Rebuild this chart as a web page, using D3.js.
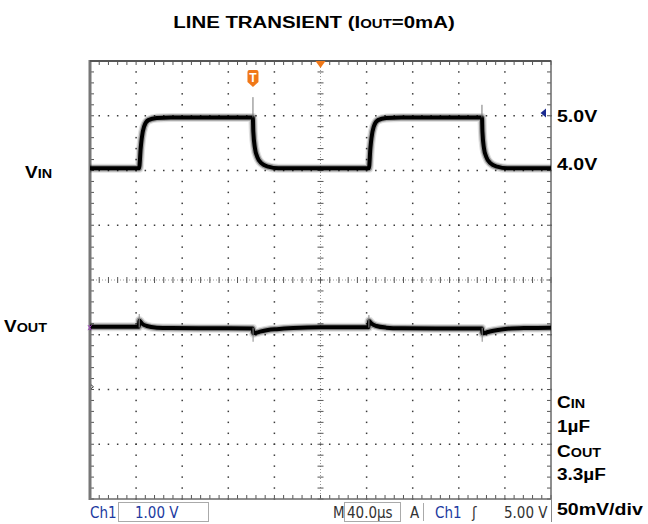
<!DOCTYPE html>
<html>
<head>
<meta charset="utf-8">
<script src="https://cdn.jsdelivr.net/npm/d3@7"></script>
<style>
body { margin: 0; background: #fff; }
svg { display: block; }
.lbl { font-family: "Liberation Sans", Arial, sans-serif; font-weight: bold; fill: #000; }
.bar { font-family: "DejaVu Sans Condensed", "DejaVu Sans", sans-serif; font-size: 15px; }
</style>
</head>
<body>
<div id="chart"></div>
<script>
// scope settings
const timeRange = [-200, 200];      // µs, 40µs/div
const ch1VoltsPerDiv = 1;
const ch1Position = -1.95;          // divisions from centre
const ch2MvPerDiv = 50;
const ch2Position = -0.87;
const triggerLevel = 5.0;
const triggerTime = -58.6;

// VIN (V)
const vinTime  = [-200, -157.4, -156.0, -155.1, -153.1, -149.4, -142.0, -130.0,
                  -58.7, -58.3, -56.9, -54.9, -51.1, -45.3, -36.6,
                  42.0, 43.3, 44.2, 46.2, 49.9, 57.0, 70.0,
                  140.1, 140.5, 141.8, 143.8, 147.6, 153.4, 162.0, 200];
const vinVolts = [3.99, 3.99, 4.36, 4.54, 4.75, 4.87, 4.91, 4.92,
                  4.92, 4.66, 4.36, 4.20, 4.08, 4.02, 3.99,
                  3.99, 4.36, 4.54, 4.75, 4.87, 4.91, 4.92,
                  4.92, 4.66, 4.36, 4.20, 4.08, 4.02, 3.99, 3.99];

// VOUT (mV, AC)
const voutTime = [-200, -157.6, -157.2, -155.1, -150.8, -142, -130, -100,
                  -58.8, -58.3, -55, -52.5, -45.6, -38, -23.6, 0,
                  41.7, 42.1, 44.2, 48.5, 57, 70, 100,
                  140.1, 140.5, 144, 147, 154, 162, 180, 200];
const voutMv   = [0.8, 0.8, 6.5, 3.9, 1.5, 0.0, -0.4, -0.6,
                  -0.7, -5.2, -4.4, -3.7, -2.2, -1.4, -0.4, 0.3,
                  0.3, 6.0, 3.7, 1.5, 0.0, -0.6, -0.8,
                  -0.8, -5.2, -4.3, -3.5, -2.1, -1.0, -0.3, 0.0];

// thin switching spikes
const vinSpikeTime = [-58.6, 140.1];
const vinSpikePeak = [5.29, 5.15];
const vinSpikeBase = [4.92, 4.92];
const voutSpikeTime = [-157.3, -58.5, 42.0, 140.3];
const voutSpikePeak = [12.4, -12.9, 11.5, -12.9];

const width = 648;
const height = 524;
const svg = d3.select("#chart")
              .append("svg")
              .attr("width", width)
              .attr("height", height);

const x = d3.scaleLinear().domain(timeRange).range([90, 551]);
const xDiv = d3.scaleLinear().domain([-5, 5]).range([90, 551]);
const yDiv = d3.scaleLinear().domain([-4, 4]).range([499, 61]);
const yVin = d3.scaleLinear().domain([0, ch1VoltsPerDiv])
               .range([yDiv(ch1Position), yDiv(ch1Position + 1)]);
const yVout = d3.scaleLinear().domain([0, ch2MvPerDiv])
                .range([yDiv(ch2Position), yDiv(ch2Position + 1)]);

const minorX = d3.range(0, 51).map(i => i / 5 - 5);
const minorY = d3.range(0, 41).map(i => i / 5 - 4);

// graticule
const grid = svg.append("g").attr("fill", "#3a3a3a");
[-3, -2, -1, 1, 2, 3].forEach(k => {
  grid.selectAll(null).data(minorX).enter().append("rect")
      .attr("x", d => xDiv(d) - 0.75).attr("y", yDiv(k) - 0.75)
      .attr("width", 1.5).attr("height", 1.5);
});
[-4, -3, -2, -1, 1, 2, 3, 4].forEach(k => {
  grid.selectAll(null).data(minorY).enter().append("rect")
      .attr("x", xDiv(k) - 0.75).attr("y", d => yDiv(d) - 0.75)
      .attr("width", 1.5).attr("height", 1.5);
});

const ticks = svg.append("g").attr("stroke", "#555").attr("stroke-width", 1);
// centre cross
ticks.append("line").attr("x1", 90).attr("x2", 551).attr("y1", yDiv(0)).attr("y2", yDiv(0))
     .attr("stroke", "#999").attr("stroke-dasharray", "1,2");
ticks.append("line").attr("x1", xDiv(0)).attr("x2", xDiv(0)).attr("y1", 61).attr("y2", 499)
     .attr("stroke", "#999").attr("stroke-dasharray", "1,2");
ticks.selectAll(null).data(minorX).enter().append("line")
     .attr("x1", d => xDiv(d)).attr("x2", d => xDiv(d))
     .attr("y1", yDiv(0) - 3).attr("y2", yDiv(0) + 3);
ticks.selectAll(null).data(minorY).enter().append("line")
     .attr("y1", d => yDiv(d)).attr("y2", d => yDiv(d))
     .attr("x1", xDiv(0) - 3).attr("x2", xDiv(0) + 3);
// edge ticks
ticks.selectAll(null).data(minorX).enter().append("line")
     .attr("x1", d => xDiv(d)).attr("x2", d => xDiv(d)).attr("y1", 61).attr("y2", 65);
ticks.selectAll(null).data(minorX).enter().append("line")
     .attr("x1", d => xDiv(d)).attr("x2", d => xDiv(d)).attr("y1", 495).attr("y2", 499);
ticks.selectAll(null).data(minorY).enter().append("line")
     .attr("y1", d => yDiv(d)).attr("y2", d => yDiv(d)).attr("x1", 90).attr("x2", 94);
ticks.selectAll(null).data(minorY).enter().append("line")
     .attr("y1", d => yDiv(d)).attr("y2", d => yDiv(d)).attr("x1", 547).attr("x2", 551);

// frame
svg.append("rect").attr("x", 90).attr("y", 61).attr("width", 461).attr("height", 438)
   .attr("fill", "none").attr("stroke", "#6a6a6a").attr("stroke-width", 1.5);
svg.append("line").attr("x1", 90).attr("x2", 90).attr("y1", 60).attr("y2", 500)
   .attr("stroke", "#777").attr("stroke-width", 3);
svg.append("line").attr("x1", 90).attr("x2", 551).attr("y1", 61).attr("y2", 61)
   .attr("stroke", "#555").attr("stroke-width", 2);

// traces
function drawTrace(times, vals, yScale) {
  const idx = d3.range(times.length);
  const line = d3.line()
                 .x(i => x(times[i]))
                 .y(i => yScale(vals[i]))
                 .curve(d3.curveMonotoneX);
  [[9, 0.12], [6.5, 0.3], [4, 1]].forEach(([w, o]) => {
    svg.append("path")
       .attr("d", line(idx))
       .attr("fill", "none")
       .attr("stroke", "#000")
       .attr("stroke-opacity", o)
       .attr("stroke-width", w)
       .attr("stroke-linejoin", "round");
  });
}
drawTrace(vinTime, vinVolts, yVin);
drawTrace(voutTime, voutMv, yVout);

svg.append("g").selectAll("line").data(vinSpikeTime).enter().append("line")
   .attr("x1", d => x(d)).attr("x2", d => x(d))
   .attr("y1", (d, i) => yVin(vinSpikeBase[i])).attr("y2", (d, i) => yVin(vinSpikePeak[i]))
   .attr("stroke", "#777").attr("stroke-width", 1);
svg.append("g").selectAll("line").data(voutSpikeTime).enter().append("line")
   .attr("x1", d => x(d)).attr("x2", d => x(d))
   .attr("y1", yVout(0)).attr("y2", (d, i) => yVout(voutSpikePeak[i]))
   .attr("stroke", "#888").attr("stroke-width", 1);

// markers
const tx = x(triggerTime);
svg.append("path")
   .attr("d", `M${tx - 5.5},72 Q${tx - 5.5},70 ${tx - 3.5},70 L${tx + 3.5},70 Q${tx + 5.5},70 ${tx + 5.5},72 L${tx + 5.5},82 L${tx},87 L${tx - 5.5},82 Z`)
   .attr("fill", "#f07818");
svg.append("text").attr("x", tx).attr("y", 82).attr("text-anchor", "middle")
   .attr("fill", "#fff").attr("font-family", "Liberation Sans, Arial, sans-serif")
   .attr("font-weight", "bold").attr("font-size", 12).text("T");
const cx = x(0);
svg.append("path").attr("d", `M${cx - 5},61 L${cx + 5},61 L${cx},68 Z`).attr("fill", "#f07818");
const ty = yVin(triggerLevel);
svg.append("path").attr("d", `M540.5,${ty} L546,${ty - 4.5} L546,${ty + 4.5} Z`).attr("fill", "#1a2a90");
svg.append("path").attr("d", `M88,${yVout(0) - 2.5} L91.5,${yVout(0) + 2.5} M88,${yVout(0) + 2.5} L91.5,${yVout(0) - 2.5}`)
   .attr("stroke", "#a040c0").attr("stroke-width", 1);
svg.append("path").attr("d", `M91,${yVin(0) - 2} L93.5,${yVin(0)} L91,${yVin(0) + 2}`)
   .attr("stroke", "#444").attr("fill", "none").attr("stroke-width", 1);

// labels
function label(px, py, parts, opts = {}) {
  const t = svg.append("text").attr("class", "lbl")
               .attr("transform", `translate(${px},${py}) scale(${opts.sx || 1.15},1)`)
               .attr("text-anchor", opts.anchor || "start");
  parts.forEach(([s, size]) => t.append("tspan").attr("font-size", size).text(s));
}
label(314, 28, [["LINE TRANSIENT (I", 17], ["OUT", 12.5], ["=0mA)", 17]], { anchor: "middle", sx: 1.2 });
label(25, 178, [["V", 16.5], ["IN", 12.5]]);
label(4, 332, [["V", 16.5], ["OUT", 12.5]]);
label(557, 122, [["5.0V", 17]]);
label(557, 170, [["4.0V", 17]]);
label(557, 408, [["C", 16.5], ["IN", 12.5]]);
label(557, 432, [["1µF", 16.5]]);
label(557, 457, [["C", 16.5], ["OUT", 12.5]]);
label(557, 480, [["3.3µF", 16.5]]);
label(557, 515, [["50mV/div", 17]]);

// status bar
const bar = svg.append("g").attr("class", "bar");
bar.append("rect").attr("x", 118.5).attr("y", 502.5).attr("width", 90).attr("height", 19)
   .attr("fill", "none").attr("stroke", "#aaa");
bar.append("rect").attr("x", 344.5).attr("y", 502.5).attr("width", 56).attr("height", 19)
   .attr("fill", "none").attr("stroke", "#aaa");
bar.append("line").attr("x1", 423.5).attr("x2", 423.5).attr("y1", 503).attr("y2", 521).attr("stroke", "#aaa");
bar.append("line").attr("x1", 551.5).attr("x2", 551.5).attr("y1", 499).attr("y2", 522).attr("stroke", "#888");
const barText = [
  ["Ch1", 90, "#1c3aa0"], ["1.00 V", 135, "#1c3aa0"], ["M", 333, "#333"],
  ["40.0µs", 347, "#333"], ["A", 410, "#333"], ["Ch1", 435, "#1c3aa0"],
  ["ʃ", 472, "#333"], ["5.00 V", 504, "#333"]
];
bar.selectAll("text").data(barText).enter().append("text")
   .attr("x", d => d[1]).attr("y", 518).attr("fill", d => d[2]).text(d => d[0]);
</script>
</body>
</html>
